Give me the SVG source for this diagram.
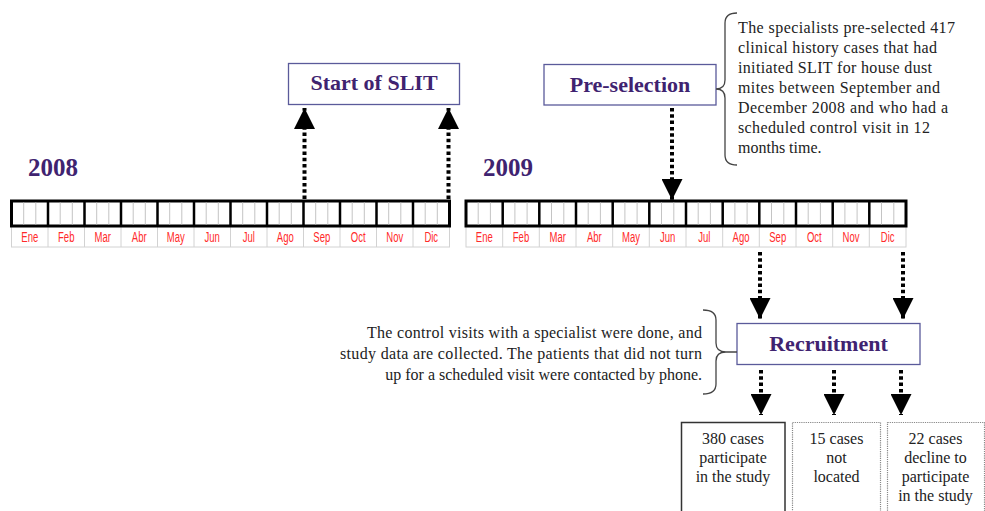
<svg xmlns="http://www.w3.org/2000/svg" width="985" height="511" viewBox="0 0 985 511">
<style>
.title{font-family:"Liberation Serif","Times New Roman",serif;font-weight:bold;font-size:22px;fill:#3f2370;text-anchor:middle}
.year{font-family:"Liberation Serif","Times New Roman",serif;font-weight:bold;font-size:25px;fill:#3f2370}
.box{fill:#fff;stroke:#5a5a9a;stroke-width:1.3}
.para{font-family:"Liberation Serif","Times New Roman",serif;font-size:16px;fill:#222}
.out{font-family:"Liberation Serif","Times New Roman",serif;font-size:16px;fill:#222;text-anchor:middle}
.mon{font-family:"Liberation Sans Narrow","Liberation Sans",Arial,sans-serif;font-size:14px;fill:#ff2a2a;text-anchor:middle}
.tl{fill:#fff;stroke:#000;stroke-width:3}
.div{stroke:#000;stroke-width:2.5}
.sub{stroke:#c4c4c4;stroke-width:1}
.lbl{fill:#fff;stroke:#d2d2d2;stroke-width:1}
.ldiv{stroke:#d2d2d2;stroke-width:1}
.dot{fill:none;stroke:#000;stroke-width:4;stroke-dasharray:3.5 2.8}
.brk{fill:none;stroke:#444;stroke-width:1.3}
</style>
<defs>
<marker id="ah" markerWidth="21" markerHeight="21" viewBox="0 0 21 21" refX="21" refY="10.5" orient="auto" markerUnits="userSpaceOnUse"><path d="M0,0 L21,10.5 L0,21 z" fill="#000"/></marker>
</defs>
<rect width="985" height="511" fill="#fff"/>

<g id="timeline-2008">
<text class="year" x="28" y="176">2008</text>
<rect class="lbl" x="11.5" y="226" width="438" height="21"/>
<path class="ldiv" d="M48,226V247M84.5,226V247M121,226V247M157.5,226V247M194,226V247M230.5,226V247M267,226V247M303.5,226V247M340,226V247M376.5,226V247M413,226V247"/>
<rect class="tl" x="11.5" y="201" width="438" height="25"/>
<path class="sub" d="M23.7,202.5V224.5M35.8,202.5V224.5M60.2,202.5V224.5M72.3,202.5V224.5M96.7,202.5V224.5M108.8,202.5V224.5M133.2,202.5V224.5M145.3,202.5V224.5M169.7,202.5V224.5M181.8,202.5V224.5M206.2,202.5V224.5M218.3,202.5V224.5M242.7,202.5V224.5M254.8,202.5V224.5M279.2,202.5V224.5M291.3,202.5V224.5M315.7,202.5V224.5M327.8,202.5V224.5M352.2,202.5V224.5M364.3,202.5V224.5M388.7,202.5V224.5M400.8,202.5V224.5M425.2,202.5V224.5M437.3,202.5V224.5"/>
<path class="div" d="M48,201V226M84.5,201V226M121,201V226M157.5,201V226M194,201V226M230.5,201V226M267,201V226M303.5,201V226M340,201V226M376.5,201V226M413,201V226"/>
<g class="mon">
<text transform="translate(29.75,242) scale(0.68,1)">Ene</text>
<text transform="translate(66.25,242) scale(0.68,1)">Feb</text>
<text transform="translate(102.75,242) scale(0.68,1)">Mar</text>
<text transform="translate(139.25,242) scale(0.68,1)">Abr</text>
<text transform="translate(175.75,242) scale(0.68,1)">May</text>
<text transform="translate(212.25,242) scale(0.68,1)">Jun</text>
<text transform="translate(248.75,242) scale(0.68,1)">Jul</text>
<text transform="translate(285.25,242) scale(0.68,1)">Ago</text>
<text transform="translate(321.75,242) scale(0.68,1)">Sep</text>
<text transform="translate(358.25,242) scale(0.68,1)">Oct</text>
<text transform="translate(394.75,242) scale(0.68,1)">Nov</text>
<text transform="translate(431.25,242) scale(0.68,1)">Dic</text>
</g>
</g>

<g id="timeline-2009">
<text class="year" x="483" y="176">2009</text>
<rect class="lbl" x="466" y="226" width="440" height="21"/>
<path class="ldiv" d="M502.7,226V247M539.3,226V247M576,226V247M612.7,226V247M649.3,226V247M686,226V247M722.7,226V247M759.3,226V247M796,226V247M832.7,226V247M869.3,226V247"/>
<rect class="tl" x="466" y="201" width="440" height="25"/>
<path class="sub" d="M478.2,202.5V224.5M490.4,202.5V224.5M514.9,202.5V224.5M527.1,202.5V224.5M551.5,202.5V224.5M563.8,202.5V224.5M588.2,202.5V224.5M600.4,202.5V224.5M624.9,202.5V224.5M637.1,202.5V224.5M661.5,202.5V224.5M673.8,202.5V224.5M698.2,202.5V224.5M710.4,202.5V224.5M734.9,202.5V224.5M747.1,202.5V224.5M771.5,202.5V224.5M783.8,202.5V224.5M808.2,202.5V224.5M820.4,202.5V224.5M844.9,202.5V224.5M857.1,202.5V224.5M881.5,202.5V224.5M893.8,202.5V224.5"/>
<path class="div" d="M502.7,201V226M539.3,201V226M576,201V226M612.7,201V226M649.3,201V226M686,201V226M722.7,201V226M759.3,201V226M796,201V226M832.7,201V226M869.3,201V226"/>
<g class="mon">
<text transform="translate(484.3,242) scale(0.68,1)">Ene</text>
<text transform="translate(521,242) scale(0.68,1)">Feb</text>
<text transform="translate(557.7,242) scale(0.68,1)">Mar</text>
<text transform="translate(594.3,242) scale(0.68,1)">Abr</text>
<text transform="translate(631,242) scale(0.68,1)">May</text>
<text transform="translate(667.7,242) scale(0.68,1)">Jun</text>
<text transform="translate(704.3,242) scale(0.68,1)">Jul</text>
<text transform="translate(741,242) scale(0.68,1)">Ago</text>
<text transform="translate(777.7,242) scale(0.68,1)">Sep</text>
<text transform="translate(814.3,242) scale(0.68,1)">Oct</text>
<text transform="translate(851,242) scale(0.68,1)">Nov</text>
<text transform="translate(887.7,242) scale(0.68,1)">Dic</text>
</g>
</g>

<g id="start-of-slit">
<rect class="box" x="288.5" y="63.5" width="171" height="41"/>
<text class="title" x="374" y="90">Start of SLIT</text>
</g>

<g id="pre-selection">
<rect class="box" x="544" y="64.5" width="172" height="40.5"/>
<text class="title" x="630" y="92">Pre-selection</text>
</g>

<g id="pre-selection-note">
<path class="brk" d="M737,13 Q725,13 725,23 L725,80 Q725,89 716,89 Q725,89 725,98 L725,155 Q725,165 737,165"/>
<g class="para">
<text x="738" y="33" textLength="217" lengthAdjust="spacing">The specialists pre-selected 417</text>
<text x="738" y="53" textLength="199" lengthAdjust="spacing">clinical history cases that had</text>
<text x="738" y="73" textLength="194" lengthAdjust="spacing">initiated SLIT for house dust</text>
<text x="738" y="93" textLength="202" lengthAdjust="spacing">mites between September and</text>
<text x="738" y="113" textLength="210" lengthAdjust="spacing">December 2008 and who had a</text>
<text x="738" y="133" textLength="192" lengthAdjust="spacing">scheduled control visit in 12</text>
<text x="738" y="153">months time.</text>
</g>
</g>

<g id="recruitment">
<rect class="box" x="737" y="323.5" width="183" height="41"/>
<text class="title" x="828.5" y="351">Recruitment</text>
</g>

<g id="recruitment-note">
<path class="brk" d="M703,310 Q716,310 716,320 L716,343 Q716,352 726,352 L737,352 M726,352 Q716,352 716,361 L716,384 Q716,394 703,394"/>
<g class="para" text-anchor="end">
<text x="702" y="338" textLength="335" lengthAdjust="spacing">The control visits with a specialist were done, and</text>
<text x="702" y="359" textLength="362" lengthAdjust="spacing">study data are collected. The patients that did not turn</text>
<text x="702" y="380">up for a scheduled visit were contacted by phone.</text>
</g>
</g>

<g id="outcome-participate">
<rect x="681.5" y="422.5" width="103.5" height="100" fill="#fff" stroke="#333" stroke-width="1.5"/>
<text class="out" x="733" y="444">380 cases</text>
<text class="out" x="733" y="463">participate</text>
<text class="out" x="733" y="482">in the study</text>
</g>

<g id="outcome-not-located">
<rect x="792.5" y="422.5" width="88" height="100" fill="#fff" stroke="#888" stroke-width="1.2" stroke-dasharray="1.2 1"/>
<text class="out" x="836.5" y="444">15 cases</text>
<text class="out" x="836.5" y="463">not</text>
<text class="out" x="836.5" y="482">located</text>
</g>

<g id="outcome-decline">
<rect x="887.5" y="422.5" width="97" height="100" fill="#fff" stroke="#888" stroke-width="1.2" stroke-dasharray="1.2 1"/>
<text class="out" x="935.5" y="444">22 cases</text>
<text class="out" x="935.5" y="463">decline to</text>
<text class="out" x="935.5" y="482">participate</text>
<text class="out" x="935.5" y="501">in the study</text>
</g>

<g id="connectors">
<path class="dot" d="M304.5,199V108" marker-end="url(#ah)"/>
<path class="dot" d="M448.5,199V108" marker-end="url(#ah)"/>
<path class="dot" d="M672,108V200" marker-end="url(#ah)"/>
<path class="dot" d="M760,252V319" marker-end="url(#ah)"/>
<path class="dot" d="M903,252V319" marker-end="url(#ah)"/>
<path class="dot" d="M761,370V415" marker-end="url(#ah)"/>
<path class="dot" d="M834,370V415" marker-end="url(#ah)"/>
<path class="dot" d="M901,370V415" marker-end="url(#ah)"/>
</g>
</svg>
